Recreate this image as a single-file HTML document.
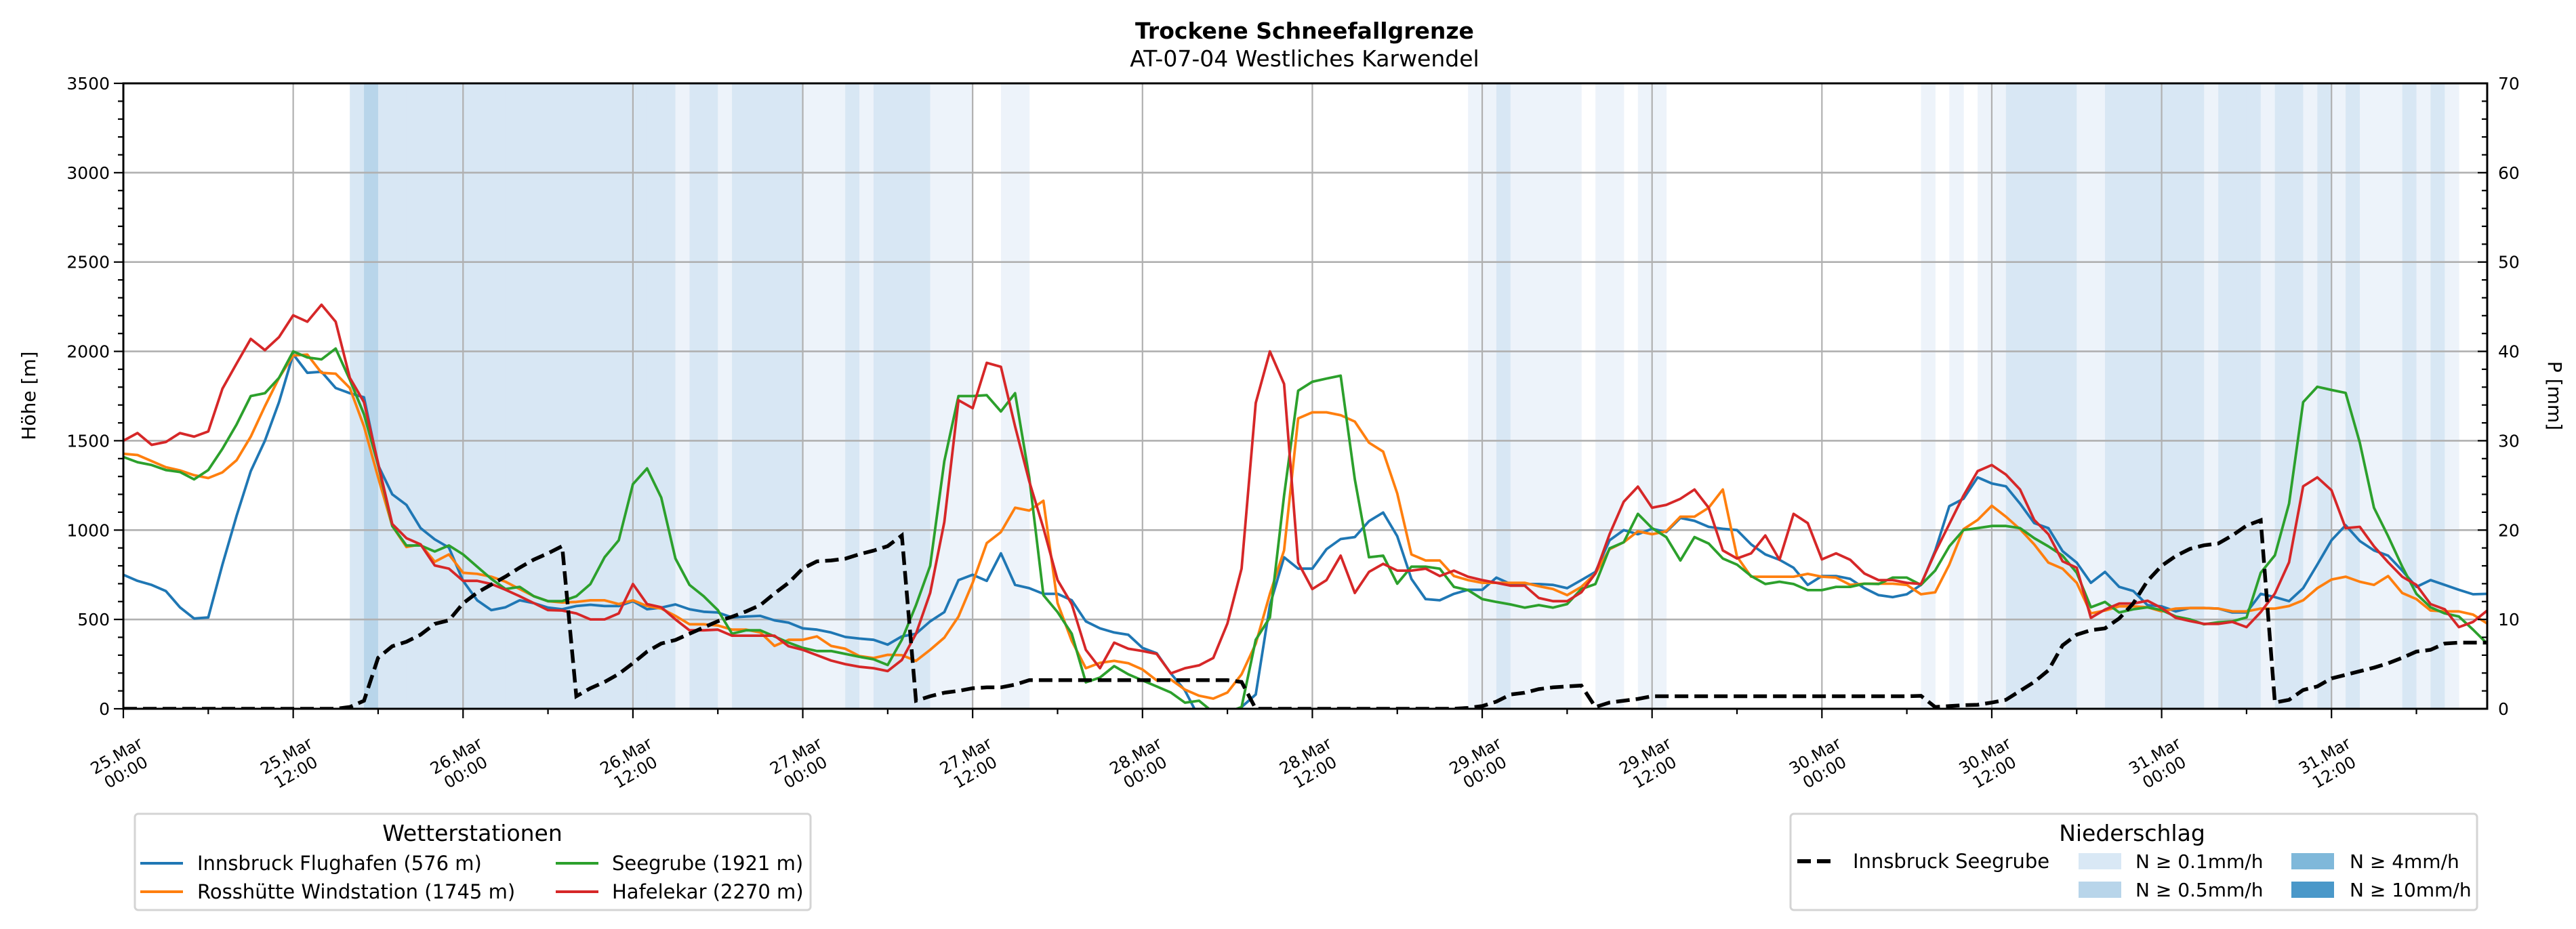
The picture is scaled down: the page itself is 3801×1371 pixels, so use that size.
<!DOCTYPE html>
<html><head><meta charset="utf-8"><title>Trockene Schneefallgrenze</title>
<style>
html,body{margin:0;padding:0;background:#fff;}
svg{display:block;font-family:"DejaVu Sans","Liberation Sans",sans-serif;}
</style></head>
<body>
<svg id="chart" xmlns="http://www.w3.org/2000/svg" width="3801" height="1371" viewBox="0 0 3801 1371">
<rect x="0" y="0" width="3801" height="1371" fill="#fff"/>
<text x="1925" y="57" text-anchor="middle" font-size="33" font-weight="bold">Trockene Schneefallgrenze</text>
<text x="1925" y="98" text-anchor="middle" font-size="33">AT-07-04 Westliches Karwendel</text>
<defs><clipPath id="plotclip"><rect x="182" y="123" width="3488" height="923"/></clipPath></defs>
<g id="bands" clip-path="url(#plotclip)"></g>
<g id="grid"></g>
<g id="series" clip-path="url(#plotclip)"></g>
<g id="axes"></g>
<text x="0" y="0" transform="translate(52,584) rotate(-90)" text-anchor="middle" font-size="28">Höhe [m]</text>
<text x="0" y="0" transform="translate(3760,584) rotate(90)" text-anchor="middle" font-size="28">P [mm]</text>

<g>
<rect x="199" y="1201" width="997" height="142" rx="5" fill="#fff" stroke="#d4d4d4" stroke-width="3"/>
<text x="697" y="1241" text-anchor="middle" font-size="33">Wetterstationen</text>
<g><line x1="207" y1="1274" x2="270" y2="1274" stroke="#1f77b4" stroke-width="4"/><text x="291" y="1284" font-size="29">Innsbruck Flughafen (576 m)</text></g>
<g><line x1="207" y1="1316" x2="270" y2="1316" stroke="#ff7f0e" stroke-width="4"/><text x="291" y="1326" font-size="29">Rosshütte Windstation (1745 m)</text></g>
<g><line x1="820" y1="1274" x2="883" y2="1274" stroke="#2ca02c" stroke-width="4"/><text x="903" y="1284" font-size="29">Seegrube (1921 m)</text></g>
<g><line x1="820" y1="1316" x2="883" y2="1316" stroke="#d62728" stroke-width="4"/><text x="903" y="1326" font-size="29">Hafelekar (2270 m)</text></g>
</g>
<g>
<rect x="2642" y="1201" width="1013" height="142" rx="5" fill="#fff" stroke="#d4d4d4" stroke-width="3"/>
<text x="3146" y="1241" text-anchor="middle" font-size="33">Niederschlag</text>
<g><line x1="2652" y1="1271" x2="2710" y2="1271" stroke="#000" stroke-width="6" stroke-dasharray="20 9"/><text x="2734" y="1281" font-size="29">Innsbruck Seegrube</text></g>
<g><rect x="3067" y="1259" width="63" height="24" fill="#d9e8f5"/><text x="3151" y="1281" font-size="28">N ≥ 0.1mm/h</text></g>
<g><rect x="3067" y="1301" width="63" height="24" fill="#b8d5ea"/><text x="3151" y="1323" font-size="28">N ≥ 0.5mm/h</text></g>
<g><rect x="3381" y="1259" width="63" height="24" fill="#7fb8da"/><text x="3467" y="1281" font-size="28">N ≥ 4mm/h</text></g>
<g><rect x="3381" y="1301" width="63" height="24" fill="#4a98c9"/><text x="3467" y="1323" font-size="28">N ≥ 10mm/h</text></g>
</g>
</svg>
<script>
const tickLabels = ["25.Mar|00:00","25.Mar|12:00","26.Mar|00:00","26.Mar|12:00","27.Mar|00:00","27.Mar|12:00","28.Mar|00:00","28.Mar|12:00","29.Mar|00:00","29.Mar|12:00","30.Mar|00:00","30.Mar|12:00","31.Mar|00:00","31.Mar|12:00"];
const yTicks = [0,500,1000,1500,2000,2500,3000,3500];
const y2Ticks = [0,10,20,30,40,50,60,70];
const innsbruck = [750,716,693,659,568,505,511,807,1080,1330,1500,1716,1984,1880,1886,1795,1766,1743,1364,1200,1141,1011,948,902,716,607,552,568,607,591,566,557,575,582,575,575,602,557,566,584,557,543,539,511,516,520,495,482,450,443,427,402,393,386,359,405,420,489,541,720,750,716,870,693,675,643,643,607,489,450,427,414,341,311,198,102,-50,-40,-50,10,80,580,848,784,784,893,950,961,1050,1098,966,727,614,607,643,666,666,734,698,698,698,693,675,720,766,943,1000,977,1007,989,1068,1052,1018,1007,1000,920,864,834,789,693,743,743,727,675,636,625,641,693,884,1134,1175,1295,1261,1245,1148,1039,1011,882,818,705,766,682,659,580,573,545,564,564,561,539,539,643,625,602,675,807,943,1027,939,886,857,773,682,720,693,666,641,643];
const rosshuette = [1427,1420,1386,1352,1334,1307,1291,1323,1391,1523,1693,1852,1977,1982,1880,1875,1795,1580,1295,1023,905,920,823,864,761,755,739,711,670,630,602,595,598,607,607,586,607,575,561,520,473,473,466,443,443,427,352,386,386,405,352,336,295,284,302,300,268,330,398,516,705,927,989,1125,1109,1164,591,380,227,257,268,255,220,159,164,107,73,57,91,193,364,643,886,1625,1659,1659,1643,1607,1489,1439,1205,864,830,830,743,720,705,705,705,705,686,670,636,682,757,893,932,993,977,993,1075,1075,1125,1227,852,739,739,739,739,755,739,734,693,700,700,700,693,641,652,807,1005,1057,1136,1075,1005,920,818,784,705,534,550,573,573,568,545,561,564,564,561,545,545,561,561,575,607,675,723,739,711,693,743,648,614,550,545,545,527,477];
const seegrube = [1409,1380,1364,1336,1325,1284,1336,1455,1591,1750,1766,1852,2000,1966,1955,2016,1841,1648,1364,1023,914,914,880,914,864,795,727,670,682,630,602,602,630,698,848,943,1257,1345,1182,841,693,630,552,420,439,439,405,370,341,323,323,307,291,277,245,386,580,800,1386,1750,1750,1755,1664,1766,1295,636,541,420,148,175,239,193,159,125,91,34,45,-20,-20,10,386,511,1193,1780,1830,1848,1864,1284,848,857,700,795,795,784,682,664,614,598,584,566,580,566,586,670,698,898,932,1091,1011,961,830,961,925,841,807,743,698,711,698,664,664,682,682,700,698,734,734,693,773,909,1000,1011,1023,1023,1011,955,909,857,761,568,598,539,557,568,552,516,500,473,484,489,511,761,859,1148,1716,1802,1784,1768,1489,1125,966,795,643,568,534,516,443,364];
const hafelekar = [1500,1543,1477,1493,1543,1523,1552,1791,1932,2070,2007,2080,2202,2166,2261,2166,1852,1716,1375,1034,955,920,802,784,716,716,698,666,630,591,552,550,534,500,500,534,698,586,568,500,439,439,443,409,409,409,409,350,330,300,270,250,235,227,211,273,420,648,1045,1727,1682,1936,1914,1580,1273,1011,720,586,330,227,370,336,323,307,198,227,243,284,477,784,1711,2000,1818,818,670,720,857,648,766,811,773,773,784,743,773,739,720,705,689,689,620,602,602,652,757,977,1159,1243,1125,1141,1175,1227,1125,886,841,870,970,834,1091,1039,836,870,834,757,720,720,705,698,875,1034,1193,1330,1364,1311,1227,1057,977,825,789,509,555,589,589,605,564,509,491,475,475,486,457,541,645,820,1245,1295,1223,1011,1018,909,820,739,693,586,557,457,486,550];
const precipSeegrube = [0,0,0,0,0,0,0,0,0,0,0,0,0,0,0,0,0.2,0.9,5.7,7.0,7.5,8.3,9.5,9.9,11.8,13.0,13.9,14.8,15.8,16.7,17.4,18.2,1.4,2.3,3.0,3.9,5.1,6.4,7.3,7.7,8.4,9.1,9.8,10.3,10.9,11.6,12.9,14.1,15.7,16.5,16.6,16.8,17.3,17.7,18.2,19.4,0.9,1.4,1.8,2.0,2.3,2.4,2.4,2.7,3.2,3.2,3.2,3.2,3.2,3.2,3.2,3.2,3.2,3.2,3.2,3.2,3.2,3.2,3.2,3.0,0,0,0,0,0,0,0,0,0,0,0,0,0,0,0,0.1,0.3,0.8,1.6,1.8,2.2,2.4,2.5,2.6,0.2,0.7,0.9,1.1,1.4,1.4,1.4,1.4,1.4,1.4,1.4,1.4,1.4,1.4,1.4,1.4,1.4,1.4,1.4,1.4,1.4,1.4,1.4,1.45,0.2,0.3,0.4,0.45,0.7,1.0,2.0,3.0,4.3,7.1,8.3,8.8,9.0,10.1,11.8,14.3,16.0,17.1,17.9,18.3,18.5,19.4,20.5,21.1,0.7,1.0,2.1,2.5,3.4,3.8,4.2,4.6,5.1,5.7,6.4,6.6,7.3,7.4,7.4,7.4];
const precipLevel = [0,0,0,0,0,0,0,0,0,0,0,0,0,0,0,0,2,3,2,2,2,2,2,2,2,2,2,2,2,2,2,2,2,2,2,2,2,2,2,1,2,2,1,2,2,2,2,2,1,1,1,2,1,2,2,2,2,1,1,1,0,0,1,1,0,0,0,0,0,0,0,0,0,0,0,0,0,0,0,0,0,0,0,0,0,0,0,0,0,0,0,0,0,0,0,1,1,2,1,1,1,1,1,0,1,1,0,1,1,0,0,0,0,0,0,0,0,0,0,0,0,0,0,0,0,0,0,1,0,1,0,1,1,2,2,2,2,2,1,1,2,2,2,2,2,2,2,1,2,2,2,1,2,2,1,2,1,2,1,1,1,2,1,2,1,0,0];

const NS = "http://www.w3.org/2000/svg";
const X0 = 182, PX_PER_H = 20.886, XMAX = 167, YTOP = 123, YBOT = 1046, YMAX = 3500, PMAX = 70;
function xs(h){ return X0 + h * PX_PER_H; }
function ys(v){ return YBOT - v * (YBOT - YTOP) / YMAX; }
function ps(p){ return YBOT - p * (YBOT - YTOP) / PMAX; }
function mk(tag, attrs, parent){ const e = document.createElementNS(NS, tag); for (const k in attrs) e.setAttribute(k, attrs[k]); parent.appendChild(e); return e; }

const bandG = document.getElementById('bands');
const bandColors = [null, '#edf3fa', '#d8e7f4', '#b8d5ea'];
precipLevel.forEach((lv, h) => {
  if (!lv) return;
  const r = mk('rect', {x: xs(h), y: YTOP, width: PX_PER_H + 0.5, height: YBOT - YTOP, fill: bandColors[lv]}, bandG);
  
  
});

const gridG = document.getElementById('grid');
yTicks.forEach(v => {
  if (v === 0 || v === YMAX) return;
  const l = mk('line', {x1: X0, x2: xs(XMAX), y1: ys(v), y2: ys(v), stroke: '#b0b0b0', 'stroke-width': 2.6}, gridG);
  
  
});
tickLabels.forEach((t, i) => {
  if (i === 0) return;
  const l = mk('line', {x1: xs(i * 12), x2: xs(i * 12), y1: YTOP, y2: YBOT, stroke: '#b0b0b0', 'stroke-width': 2.2}, gridG);
  
  
});

const serG = document.getElementById('series');
function linePath(arr, sc){ return arr.map((v, h) => (h ? 'L' : 'M') + xs(h).toFixed(1) + ' ' + sc(v).toFixed(1)).join(' '); }
const seriesDefs = [
  ['line-innsbruck', innsbruck, '#1f77b4'],
  ['line-rosshuette', rosshuette, '#ff7f0e'],
  ['line-seegrube', seegrube, '#2ca02c'],
  ['line-hafelekar', hafelekar, '#d62728']
];
seriesDefs.forEach(([name, arr, col]) => {
  const p = mk('path', {d: linePath(arr, ys), fill: 'none', stroke: col, 'stroke-width': 3.8, 'stroke-linejoin': 'round'}, serG);
  
  
});
const pp = mk('path', {d: linePath(precipSeegrube, ps), fill: 'none', stroke: '#000', 'stroke-width': 5.5, 'stroke-dasharray': '20 9'}, serG);



const axG = document.getElementById('axes');
const frame = mk('rect', {x: X0, y: YTOP, width: xs(XMAX) - X0, height: YBOT - YTOP, fill: 'none', stroke: '#000', 'stroke-width': 3}, axG);


for (let v = 0; v <= YMAX; v += 100) {
  const major = v % 500 === 0;
  mk('line', {x1: X0 - (major ? 14 : 8), x2: X0, y1: ys(v), y2: ys(v), stroke: '#000', 'stroke-width': 2.2}, axG);
}
yTicks.forEach(v => {
  const t = mk('text', {x: X0 - 20, y: ys(v) + 9, 'text-anchor': 'end', 'font-size': 25}, axG);
  t.textContent = v;
  
  
});
for (let p = 0; p <= PMAX; p += 2) {
  const major = p % 10 === 0;
  mk('line', {x1: xs(XMAX) - (major ? 14 : 8), x2: xs(XMAX), y1: ps(p), y2: ps(p), stroke: '#000', 'stroke-width': 2.2}, axG);
}
y2Ticks.forEach(p => {
  const t = mk('text', {x: xs(XMAX) + 16, y: ps(p) + 9, 'text-anchor': 'start', 'font-size': 25}, axG);
  t.textContent = p;
  
  
});
for (let h = 0; h <= XMAX; h += 6) {
  const major = h % 12 === 0;
  mk('line', {x1: xs(h), x2: xs(h), y1: YBOT, y2: YBOT + (major ? 14 : 8), stroke: '#000', 'stroke-width': 2.2}, axG);
}
tickLabels.forEach((lab, i) => {
  const parts = lab.split('|');
  const cx = xs(i * 12) - 4, cy = 1126;
  const t = mk('text', {x: 0, y: 0, transform: 'translate(' + cx + ',' + cy + ') rotate(-30)', 'text-anchor': 'middle', 'font-size': 24}, axG);
  
  
  const s1 = mk('tspan', {x: 0, dy: -4}, t); s1.textContent = parts[0];
  const s2 = mk('tspan', {x: 0, dy: 28}, t); s2.textContent = parts[1];
});
</script>
</body></html>
